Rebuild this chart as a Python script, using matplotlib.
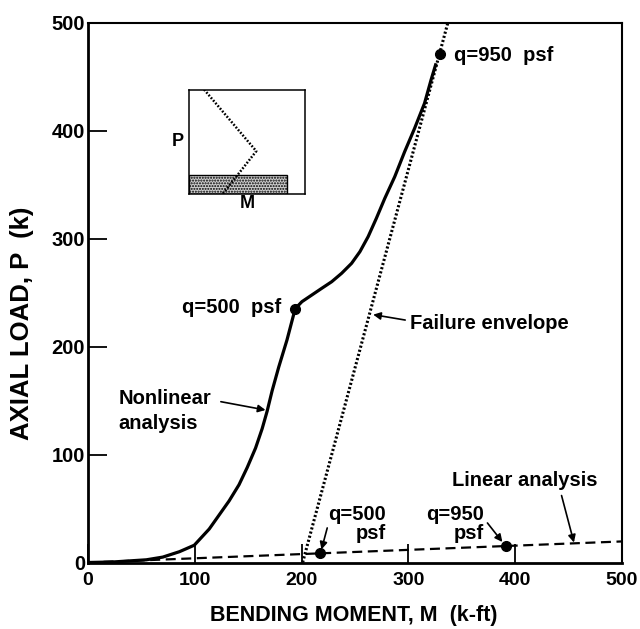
import matplotlib
matplotlib.use('Agg')
import matplotlib.pyplot as plt
from matplotlib.patches import Rectangle

plt.rcParams['font.family'] = ['Liberation Sans', 'DejaVu Sans']
plt.rcParams['font.weight'] = 'bold'

# nonlinear analysis curve (M in k-ft, P in k)
nonlin_M = [0, 23.5, 54.6, 70, 85.6, 99.5, 113.5, 122.8, 132.1, 141.4, 149.1,
            156.9, 163.1, 167.7, 172.4, 178.6, 186.3, 194,
            200.3, 209.6, 218.9, 228.2, 237.5, 246.8, 254.6, 262.3, 270,
            277.9, 287.2, 296.5, 305.8, 315.1, 321.2, 325.9]
nonlin_P = [0, 0.5, 2.5, 5, 10, 16, 31, 44, 57, 72, 88,
            106, 124, 140, 159, 181, 206, 235,
            241.5, 247.7, 253.9, 260, 267.8, 277, 287.8, 301.7, 318.7,
            337.2, 357.2, 380.4, 402, 425.2, 446.8, 462.2]

# failure envelope
fail_M = [201, 337]
fail_P = [0, 500]

# linear analysis
lin_M = [0, 500]
lin_P = [0, 19.5]

# marked load levels
nonlin_pts_M = [194, 329.5]
nonlin_pts_P = [235, 471]
lin_pts_M = [217, 391]
lin_pts_P = [8.5, 15.5]

# inset sketch (axis fractions)
inset_x = [0.13, 0.58, 0.29]
inset_y = [1.0, 0.41, 0.0]

fig = plt.figure(figsize=(6.4, 6.29), dpi=100)
ax = fig.add_axes([88/640, 1-562.5/629, 534/640, 540/629])

ax.plot(nonlin_M, nonlin_P, color='black', lw=2.3, solid_capstyle='butt')
ax.plot(fail_M, fail_P, color='black', lw=2.2, linestyle=(0, (0.7, 0.7)))
ax.plot(lin_M, lin_P, color='black', lw=1.6, linestyle=(0, (4.5, 2.5)))
ax.plot(nonlin_pts_M, nonlin_pts_P, 'o', color='black', ms=7)
ax.plot(lin_pts_M, lin_pts_P, 'o', color='black', ms=7)

ax.set_xlim(0, 500)
ax.set_ylim(0, 500)
ax.set_xticks([0, 100, 200, 300, 400, 500])
ax.set_yticks([0, 100, 200, 300, 400, 500])
ax.tick_params(direction='in', length=14, width=1.3, labelsize=14.5)
ax.tick_params(axis='x', pad=7, labelsize=14)
ax.tick_params(axis='y', pad=2)
for lab in ax.get_xticklabels() + ax.get_yticklabels():
    lab.set_fontweight('bold')
for side in ['left', 'bottom']:
    ax.spines[side].set_linewidth(2.0)
for side in ['top', 'right']:
    ax.spines[side].set_linewidth(1.5)

fig.text(354/640, 1-615.8/629, 'BENDING MOMENT, M  (k-ft)', fontsize=15.5,
         fontweight='bold', ha='center', va='center')
fig.text(22/640, 1-323.5/629, 'AXIAL LOAD, P  (k)', fontsize=18.5,
         fontweight='bold', ha='center', va='center', rotation=90)

fs = 14.5
arrow = dict(arrowstyle='-|>', color='black', lw=1.2, shrinkA=0, shrinkB=0,
             mutation_scale=11)

ax.text(343, 469, 'q=950  psf', fontsize=fs, fontweight='bold', ha='left', va='center')
ax.text(181, 236, 'q=500  psf', fontsize=fs, fontweight='bold', ha='right', va='center')

ax.text(301.5, 221, 'Failure envelope', fontsize=fs, fontweight='bold',
        ha='left', va='center')
ax.annotate('', xy=(267, 229.5), xytext=(297, 224.5), arrowprops=arrow)

ax.text(28.8, 140, 'Nonlinear\nanalysis', fontsize=fs, fontweight='bold',
        ha='left', va='center', linespacing=1.4)
ax.annotate('', xy=(166.2, 141.2), xytext=(124.4, 148.9), arrowprops=arrow)

ax.text(341, 76, 'Linear analysis', fontsize=fs, fontweight='bold',
        ha='left', va='center')
ax.annotate('', xy=(455, 18.5), xytext=(443.4, 62), arrowprops=arrow)

ax.text(279, 35.6, 'q=500\npsf', fontsize=fs, fontweight='bold', ha='right',
        va='center', multialignment='right', linespacing=1.05)
ax.annotate('', xy=(218.6, 12), xytext=(224, 32), arrowprops=arrow)

ax.text(371, 35.6, 'q=950\npsf', fontsize=fs, fontweight='bold', ha='right',
        va='center', multialignment='right', linespacing=1.05)
ax.annotate('', xy=(388, 19), xytext=(374, 36.6), arrowprops=arrow)

# inset
ins = fig.add_axes([189/640, 1-194/629, 116/640, 104.5/629])
ins.set_xlim(0, 1)
ins.set_ylim(0, 1)
ins.set_xticks([])
ins.set_yticks([])
for sp in ins.spines.values():
    sp.set_linewidth(1.1)
ins.add_patch(Rectangle((0, 0), 0.845, 0.18, facecolor='#d0d0d0', edgecolor='black',
                        hatch='......', lw=1.0))
ins.plot(inset_x, inset_y, color='black', lw=1.8, linestyle=(0, (0.7, 0.7)))
ins.set_xlabel('M', fontsize=13, fontweight='bold', labelpad=1)
ins.set_ylabel('P', fontsize=13, fontweight='bold', rotation=0, labelpad=8, va='center')

fig.savefig('out.png', dpi=100)
